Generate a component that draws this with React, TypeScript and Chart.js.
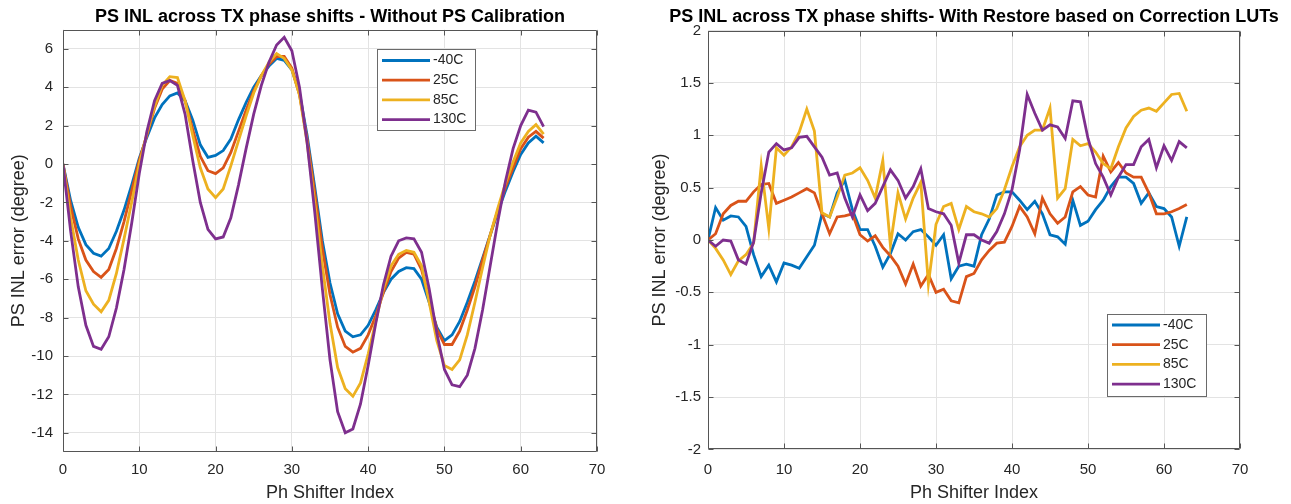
import React, { useEffect, useRef } from "react";
import { Chart, registerables } from "chart.js";

Chart.register(...registerables);

const FONT = "'Liberation Sans', Arial, Helvetica, sans-serif";

// ---------- data ----------
const phaseIndex = [
  0, 1, 2, 3, 4, 5, 6, 7, 8, 9, 10, 11, 12, 13, 14, 15, 16, 17, 18, 19, 20, 21,
  22, 23, 24, 25, 26, 27, 28, 29, 30, 31, 32, 33, 34, 35, 36, 37, 38, 39, 40, 41,
  42, 43, 44, 45, 46, 47, 48, 49, 50, 51, 52, 53, 54, 55, 56, 57, 58, 59, 60, 61,
  62, 63,
];
const tempLabels = ["-40C", "25C", "85C", "130C"];
const tempColors = ["#0072BD", "#D95319", "#EDB120", "#7E2F8E"];
const xTickValues = [0, 10, 20, 30, 40, 50, 60, 70];
const leftYTickValues = [-14, -12, -10, -8, -6, -4, -2, 0, 2, 4, 6];
const rightYTickValues = [-2, -1.5, -1, -0.5, 0, 0.5, 1, 1.5, 2];

// Without PS calibration
const noCalM40 = [
  0, -1.9, -3.3, -4.2, -4.65, -4.8, -4.4, -3.5, -2.4, -1.1,
  0.3, 1.4, 2.4, 3.1, 3.55, 3.7, 3.3, 2.3, 1.0, 0.35,
  0.45, 0.7, 1.3, 2.3, 3.2, 4.0, 4.6, 5.1, 5.5, 5.4,
  4.9, 3.7, 1.5, -1.2, -4.0, -6.2, -7.8, -8.7, -9.0, -8.9,
  -8.4, -7.6, -6.7, -6.0, -5.6, -5.4, -5.45, -6.0, -7.2, -8.5,
  -9.2, -8.9, -8.2, -7.2, -6.1, -4.9, -3.7, -2.5, -1.4, -0.4,
  0.5, 1.1, 1.45, 1.1,
];
const noCal25 = [
  0, -2.2, -3.9, -5.0, -5.6, -5.9, -5.5, -4.4, -3.0, -1.4,
  0.2, 1.5, 2.9, 3.9, 4.35, 4.2, 3.3, 1.8, 0.4, -0.35,
  -0.5, -0.2, 0.6, 1.7, 2.8, 3.8, 4.6, 5.2, 5.6, 5.6,
  5.0, 3.6, 1.3, -1.5, -4.4, -6.8, -8.5, -9.5, -9.8, -9.6,
  -8.9, -7.9, -6.7, -5.6, -4.9, -4.6, -4.7, -5.5, -7.0, -8.6,
  -9.4, -9.4, -8.7, -7.6, -6.4, -5.0, -3.7, -2.4, -1.2, -0.2,
  0.8, 1.4, 1.7, 1.35,
];
const noCal85 = [
  0, -2.8, -5.0, -6.6, -7.3, -7.7, -7.1, -5.7, -3.9, -2.0,
  0.0, 1.6, 3.0, 4.1, 4.55, 4.5, 3.3, 1.5, -0.2, -1.3,
  -1.75, -1.3, -0.1, 1.2, 2.5, 3.7, 4.6, 5.3, 5.75, 5.5,
  4.9, 3.6, 1.1, -2.0, -5.3, -8.3, -10.6, -11.7, -12.1, -11.4,
  -9.9, -8.2, -6.5, -5.3, -4.7, -4.5, -4.6, -5.3, -7.2, -9.2,
  -10.5, -10.7, -10.2, -8.9, -7.2, -5.4, -3.7, -2.3, -1.0, 0.1,
  1.1, 1.7, 2.05, 1.55,
];
const noCal130 = [
  0, -3.5, -6.4, -8.4, -9.5, -9.65, -9.0, -7.5, -5.5, -3.1,
  -0.5, 1.7, 3.3, 4.2, 4.35, 4.1, 2.6, 0.2, -2.0, -3.4,
  -3.9, -3.8, -2.8, -1.1, 0.8, 2.6, 4.1, 5.3, 6.2, 6.6,
  5.9, 4.0, 1.1, -2.5, -6.5, -10.2, -12.9, -14.0, -13.8, -12.5,
  -10.5, -8.3, -6.3, -4.8, -4.0, -3.85, -3.9, -4.6, -6.5, -8.8,
  -10.7, -11.5, -11.6, -11.0, -9.6, -7.6, -5.3, -3.0, -0.9, 0.8,
  2.0, 2.8, 2.7, 1.95,
];

// With restore based on correction LUTs
const lutM40 = [
  0, 0.31, 0.19, 0.23, 0.22, 0.13, -0.14, -0.35, -0.24, -0.4,
  -0.22, -0.24, -0.27, -0.16, -0.05, 0.25, 0.22, 0.45, 0.57, 0.29,
  0.1, 0.1, -0.06, -0.26, -0.13, 0.06, 0.0, 0.08, 0.1, 0.03,
  -0.05, 0.05, -0.37, -0.25, -0.23, -0.25, 0.05, 0.2, 0.43, 0.46,
  0.46, 0.38, 0.29, 0.37, 0.25, 0.05, 0.03, -0.04, 0.38, 0.14,
  0.18, 0.29, 0.38, 0.51, 0.6, 0.6, 0.54, 0.35, 0.45, 0.32,
  0.3, 0.22, -0.06, 0.22,
];
const lut25 = [
  0, 0.06, 0.25, 0.33, 0.37, 0.37, 0.46, 0.53, 0.54, 0.35,
  0.38, 0.41, 0.45, 0.49, 0.45, 0.25, 0.06, 0.22, 0.23, 0.25,
  0.05, -0.01, 0.04, -0.07, -0.15, -0.25, -0.42, -0.23, -0.44, -0.33,
  -0.5, -0.47, -0.58, -0.6, -0.35, -0.32, -0.19, -0.1, -0.03, -0.02,
  0.13, 0.32, 0.22, 0.06, 0.4, 0.25, 0.16, 0.22, 0.46, 0.51,
  0.43, 0.41, 0.8, 0.65, 0.74, 0.64, 0.6, 0.6, 0.45, 0.25,
  0.25, 0.27, 0.3, 0.34,
];
const lut85 = [
  0, -0.08, -0.19, -0.33, -0.2, -0.14, -0.03, 0.71, 0.11, 0.88,
  0.81, 0.89, 1.03, 1.25, 1.04, 0.26, 0.22, 0.41, 0.62, 0.64,
  0.69, 0.57, 0.4, 0.76, -0.05, 0.45, 0.2, 0.4, 0.55, -0.42,
  0.15, 0.32, 0.35, 0.1, 0.32, 0.27, 0.25, 0.22, 0.3, 0.48,
  0.7, 0.89, 1.0, 1.05, 1.05, 1.26, 0.4, 0.49, 0.96, 0.9,
  0.92, 0.84, 0.73, 0.68, 0.89, 1.07, 1.18, 1.24, 1.26, 1.23,
  1.31, 1.39, 1.4, 1.23,
];
const lut130 = [
  0, -0.06, 0.0, -0.01, -0.19, -0.23, -0.02, 0.45, 0.84, 0.92,
  0.86, 0.88, 0.98, 0.99, 0.89, 0.79, 0.62, 0.64, 0.4, 0.22,
  0.43, 0.28, 0.35, 0.51, 0.67, 0.57, 0.4, 0.51, 0.68, 0.3,
  0.27, 0.25, 0.14, -0.22, 0.05, 0.05, 0.0, -0.03, 0.08, 0.25,
  0.48, 0.86, 1.39, 1.21, 1.05, 1.1, 1.08, 0.97, 1.33, 1.32,
  0.97, 0.73, 0.6, 0.43, 0.6, 0.72, 0.72, 0.89, 0.96, 0.69,
  0.9, 0.76, 0.94, 0.88,
];

const leftTitle = "PS INL across TX phase shifts - Without PS Calibration";
const rightTitle = "PS INL across TX phase shifts- With Restore based on Correction LUTs";
const xAxisTitle = "Ph Shifter Index";
const yAxisTitle = "PS INL error (degree)";

// ---------- styling ----------
const TEXT = "#262626";
const GRID = "#e3e3e3";
const BOX = "#555555";
const CANVAS_H = 504;

const axesBoxPlugin = {
  id: "axesBox",
  afterDatasetsDraw(chart: any, _args: any, opts: any) {
    const { ctx, chartArea: a, scales } = chart;
    ctx.save();
    const l = Math.round(a.left) + 0.5;
    const r = Math.round(a.right) - 0.5;
    const t = Math.round(a.top) + 0.5;
    const b = Math.round(a.bottom) - 0.5;
    ctx.strokeStyle = BOX;
    ctx.lineWidth = 1;
    ctx.beginPath();
    ctx.rect(l, t, r - l, b - t);
    const tl = 5;
    for (const tk of scales.x.ticks) {
      const p = Math.round(scales.x.getPixelForValue(tk.value)) + 0.5;
      ctx.moveTo(p, b);
      ctx.lineTo(p, b - tl);
      ctx.moveTo(p, t);
      ctx.lineTo(p, t + tl);
    }
    for (const tk of scales.y.ticks) {
      const p = Math.round(scales.y.getPixelForValue(tk.value)) + 0.5;
      ctx.moveTo(l, p);
      ctx.lineTo(l + tl, p);
      ctx.moveTo(r, p);
      ctx.lineTo(r - tl, p);
    }
    ctx.stroke();

    // title, centred over the plot area
    if (opts.title) {
      ctx.fillStyle = "#000000";
      ctx.font = `bold 18px ${FONT}`;
      ctx.textAlign = "center";
      ctx.textBaseline = "middle";
      ctx.fillText(opts.title, (a.left + a.right) / 2, opts.titleY);
    }

    const lg = opts.legend;
    if (lg) {
      ctx.fillStyle = "#ffffff";
      ctx.fillRect(lg.x, lg.y, lg.w, lg.h);
      ctx.strokeStyle = "#6a6a6a";
      ctx.lineWidth = 1;
      ctx.strokeRect(Math.round(lg.x) + 0.5, Math.round(lg.y) + 0.5, lg.w, lg.h);
      ctx.font = `14px ${FONT}`;
      ctx.textBaseline = "middle";
      ctx.textAlign = "left";
      chart.data.datasets.forEach((ds: any, i: number) => {
        const yy = lg.y + 11.5 + i * 19.7;
        ctx.strokeStyle = ds.borderColor;
        ctx.lineWidth = 2.8;
        ctx.beginPath();
        ctx.moveTo(lg.x + 5, yy);
        ctx.lineTo(lg.x + 53, yy);
        ctx.stroke();
        ctx.fillStyle = TEXT;
        ctx.fillText(ds.label, lg.x + 56, yy);
      });
    }
    ctx.restore();
  },
};

type Area = { left: number; right: number; top: number; bottom: number };
type Props = {
  left: number;
  width: number;
  title: string;
  series: number[][];
  yMin: number;
  yMax: number;
  yTicks: number[];
  area: Area;
  legend: { x: number; y: number; w: number; h: number };
  xTickPad: number;
  yTickPad: number;
  yTitlePad: number;
};

function PhaseChart(p: Props) {
  const ref = useRef<HTMLCanvasElement>(null);
  useEffect(() => {
    const { area } = p;
    const tickFont = { family: FONT, size: 15 };
    const axisFont = { family: FONT, size: 18 };
    const chart = new Chart(ref.current as HTMLCanvasElement, {
      type: "line",
      data: {
        datasets: p.series.map((vals, i) => ({
          label: tempLabels[i],
          data: phaseIndex.map((x, k) => ({ x, y: vals[k] })),
          borderColor: tempColors[i],
          backgroundColor: tempColors[i],
          borderWidth: 2.8,
          pointRadius: 0,
          tension: 0,
          fill: false,
          order: 3 - i,
        })),
      },
      options: {
        responsive: false,
        animation: false,
        devicePixelRatio: 1,
        layout: {
          padding: { left: 0, top: area.top, bottom: 0, right: p.width - area.right },
        },
        plugins: {
          legend: { display: false },
          tooltip: { enabled: false },
          title: { display: false },
          axesBox: { legend: p.legend, title: p.title, titleY: 17 },
        } as any,
        scales: {
          x: {
            type: "linear",
            min: 0,
            max: 70,
            afterBuildTicks: (s: any) => {
              s.ticks = xTickValues.map((v) => ({ value: v }));
            },
            afterFit: (s: any) => {
              s.height = CANVAS_H - area.bottom;
            },
            grid: { color: GRID, drawTicks: false },
            border: { display: false },
            ticks: {
              autoSkip: false,
              maxRotation: 0,
              padding: p.xTickPad,
              color: TEXT,
              font: tickFont,
              callback: (v: any) => String(v),
            },
            title: {
              display: true,
              text: xAxisTitle,
              color: TEXT,
              font: axisFont,
              padding: { top: 0, bottom: 0 },
            },
          },
          y: {
            type: "linear",
            min: p.yMin,
            max: p.yMax,
            afterBuildTicks: (s: any) => {
              s.ticks = p.yTicks.map((v) => ({ value: v }));
            },
            afterFit: (s: any) => {
              s.width = area.left;
            },
            grid: { color: GRID, drawTicks: false },
            border: { display: false },
            ticks: {
              autoSkip: false,
              padding: p.yTickPad,
              color: TEXT,
              font: tickFont,
              callback: (v: any) => String(v),
            },
            title: {
              display: true,
              text: yAxisTitle,
              color: TEXT,
              font: axisFont,
              padding: { top: p.yTitlePad, bottom: 0 },
            },
          },
        },
      } as any,
      plugins: [axesBoxPlugin as any],
    });
    return () => chart.destroy();
  }, []);
  return (
    <canvas
      ref={ref}
      width={p.width}
      height={CANVAS_H}
      style={{ position: "absolute", left: p.left, top: 0, width: p.width, height: CANVAS_H }}
    />
  );
}

export default function App() {
  return (
    <div
      style={{
        position: "fixed",
        left: 0,
        top: 0,
        width: 1291,
        height: 504,
        background: "#ffffff",
        overflow: "hidden",
      }}
    >
      <PhaseChart
        left={0}
        width={645}
        title={leftTitle}
        series={[noCalM40, noCal25, noCal85, noCal130]}
        yMin={-15}
        yMax={7}
        yTicks={leftYTickValues}
        area={{ left: 63, right: 597, top: 29.6, bottom: 452 }}
        legend={{ x: 377, y: 49, w: 98, h: 81 }}
        xTickPad={9}
        yTickPad={10}
        yTitlePad={8}
      />
      <PhaseChart
        left={645}
        width={646}
        title={rightTitle}
        series={[lutM40, lut25, lut85, lut130]}
        yMin={-2}
        yMax={2}
        yTicks={rightYTickValues}
        area={{ left: 63, right: 595, top: 30.6, bottom: 449.4 }}
        legend={{ x: 462, y: 313.5, w: 99, h: 82 }}
        xTickPad={11}
        yTickPad={7}
        yTitlePad={4}
      />
    </div>
  );
}
